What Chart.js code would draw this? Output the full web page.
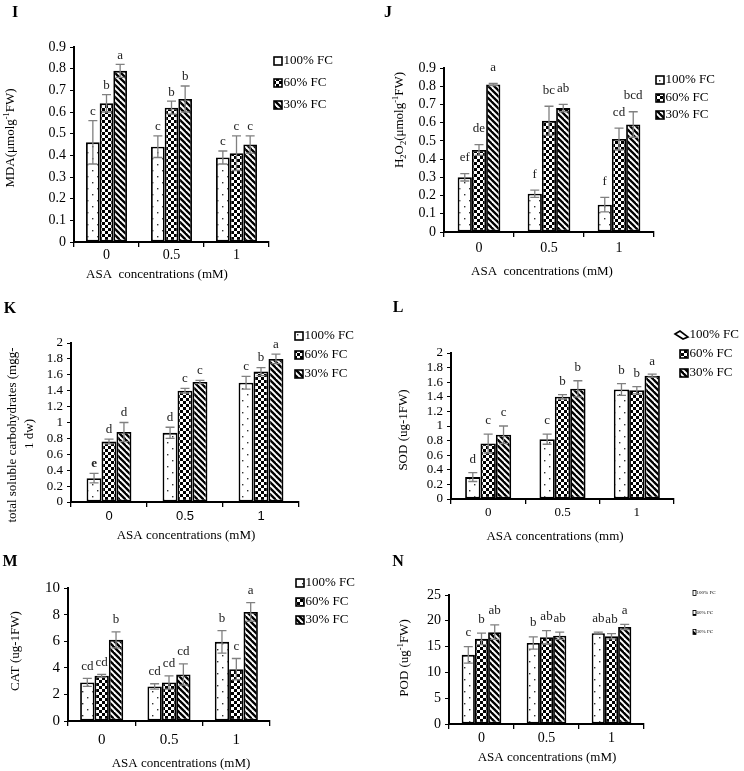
<!DOCTYPE html>
<html>
<head>
<meta charset="utf-8">
<title>ASA x water deficit panels I-N</title>
<script src="https://cdn.jsdelivr.net/npm/chart.js@4.4.1/dist/chart.umd.min.js"></script>
<style>
  html, body { margin: 0; padding: 0; background: #fff; }
  body { position: relative; width: 744px; height: 771px; overflow: hidden; }
  canvas { position: absolute; }
</style>
</head>
<body>
<canvas id="chartI"></canvas>
<canvas id="chartJ"></canvas>
<canvas id="chartK"></canvas>
<canvas id="chartL"></canvas>
<canvas id="chartM"></canvas>
<canvas id="chartN"></canvas>
<script>
// ---- values (rows: 100% FC, 60% FC, 30% FC) ----
const concentrations = ['0', '0.5', '1'];
const fieldCapacity = ['100% FC', '60% FC', '30% FC'];

// I - MDA
const mdaMeans = [[0.46, 0.44, 0.39], [0.64, 0.62, 0.41], [0.79, 0.66, 0.45]];
const mdaErrors = [[0.10, 0.05, 0.03], [0.04, 0.03, 0.08], [0.03, 0.06, 0.04]];
const mdaLetters = [['c', 'c', 'c'], ['b', 'b', 'c'], ['a', 'b', 'c']];
const mdaTicks = [0, 0.1, 0.2, 0.3, 0.4, 0.5, 0.6, 0.7, 0.8, 0.9];

// J - H2O2
const h2o2Means = [[0.30, 0.21, 0.15], [0.45, 0.61, 0.51], [0.81, 0.68, 0.59]];
const h2o2Errors = [[0.02, 0.02, 0.04], [0.03, 0.08, 0.06], [0.005, 0.02, 0.07]];
const h2o2Letters = [['ef', 'f', 'f'], ['de', 'bc', 'cd'], ['a', 'ab', 'bcd']];
const h2o2Ticks = [0, 0.1, 0.2, 0.3, 0.4, 0.5, 0.6, 0.7, 0.8, 0.9];

// K - total soluble carbohydrates
const carbMeans = [[0.30, 0.87, 1.50], [0.76, 1.40, 1.64], [0.88, 1.51, 1.80]];
const carbErrors = [[0.06, 0.07, 0.08], [0.03, 0.03, 0.05], [0.12, 0.02, 0.06]];
const carbLetters = [['e', 'd', 'c'], ['d', 'c', 'b'], ['d', 'c', 'a']];
const carbTicks = [0, 0.2, 0.4, 0.6, 0.8, 1, 1.2, 1.4, 1.6, 1.8, 2];

// L - SOD
const sodMeans = [[0.30, 0.82, 1.50], [0.76, 1.40, 1.49], [0.88, 1.51, 1.69]];
const sodErrors = [[0.06, 0.07, 0.08], [0.13, 0.03, 0.05], [0.12, 0.11, 0.02]];
const sodLetters = [['d', 'c', 'b'], ['c', 'b', 'b'], ['c', 'b', 'a']];
const sodTicks = [0, 0.2, 0.4, 0.6, 0.8, 1, 1.2, 1.4, 1.6, 1.8, 2];

// M - CAT
const catMeans = [[2.9, 2.6, 5.95], [3.4, 2.9, 3.9], [6.1, 3.5, 8.2]];
const catErrors = [[0.3, 0.2, 0.85], [0.1, 0.5, 0.8], [0.6, 0.8, 0.7]];
const catLetters = [['cd', 'cd', 'b'], ['cd', 'cd', 'c'], ['b', 'cd', 'a']];
const catTicks = [0, 2, 4, 6, 8, 10];

// N - POD
const podMeans = [[13.4, 15.7, 17.6], [16.5, 16.8, 17.0], [17.8, 17.1, 18.8]];
const podErrors = [[1.6, 1.2, 0.2], [1.1, 1.3, 0.5], [1.4, 0.7, 0.5]];
const podLetters = [['c', 'b', 'ab'], ['b', 'ab', 'ab'], ['ab', 'ab', 'a']];
const podTicks = [0, 5, 10, 15, 20, 25];

const SERIF = "'Liberation Serif', 'Times New Roman', serif";
const SANS = "'Liberation Sans', Arial, sans-serif";

// fill patterns for the three water regimes
function makePattern(kind) {
  const c = document.createElement('canvas');
  const g = c.getContext('2d');
  if (kind === 'dots') {
    c.width = 10; c.height = 12;
    g.fillStyle = '#fff'; g.fillRect(0, 0, 10, 12);
    g.fillStyle = '#333';
    g.fillRect(2, 2, 1.4, 1.4);
    g.fillRect(7, 8, 1.4, 1.4);
  } else if (kind === 'checker') {
    c.width = 6; c.height = 6;
    g.fillStyle = '#fff'; g.fillRect(0, 0, 6, 6);
    g.fillStyle = '#000';
    g.fillRect(0, 0, 3, 3);
    g.fillRect(3, 3, 3, 3);
  } else {
    c.width = 6; c.height = 6;
    g.fillStyle = '#fff'; g.fillRect(0, 0, 6, 6);
    g.strokeStyle = '#000'; g.lineWidth = 2.3;
    [-6, 0, 6].forEach(o => {
      g.beginPath(); g.moveTo(o - 1, -1); g.lineTo(o + 7, 7); g.stroke();
    });
  }
  return g.createPattern(c, 'repeat');
}
const fills = [makePattern('dots'), makePattern('checker'), makePattern('stripes')];

// draw text with ^{sup} and _{sub} parts, optionally rotated
function drawRich(ctx, text, x, y, size, rotate, bold) {
  const parts = [];
  const re = /([_^])\{([^}]*)\}/g;
  let last = 0, m;
  while ((m = re.exec(text))) {
    if (m.index > last) parts.push({ t: text.slice(last, m.index), k: '' });
    parts.push({ t: m[2], k: m[1] });
    last = re.lastIndex;
  }
  if (last < text.length) parts.push({ t: text.slice(last), k: '' });
  const fontOf = p => (bold ? 'bold ' : '') + (p.k ? size * 0.65 : size) + 'px ' + SERIF;
  ctx.save();
  ctx.translate(x, y);
  if (rotate) ctx.rotate(-Math.PI / 2);
  let total = 0;
  parts.forEach(p => { ctx.font = fontOf(p); p.w = ctx.measureText(p.t).width; total += p.w; });
  let cx = -total / 2;
  ctx.textAlign = 'left';
  ctx.textBaseline = 'middle';
  ctx.fillStyle = '#000';
  parts.forEach(p => {
    ctx.font = fontOf(p);
    const dy = p.k === '^' ? -size * 0.33 : p.k === '_' ? size * 0.28 : 0;
    ctx.fillText(p.t, cx, dy);
    cx += p.w;
  });
  ctx.restore();
}

function makeDeco(p) {
  const ox = p.box.l, oy = p.box.t;
  return {
    id: 'panelDeco' + p.tag,
    afterDatasetsDraw(chart) {
      const ctx = chart.ctx;
      const yScale = chart.scales.y;
      ctx.save();
      chart.data.datasets.forEach((ds, i) => {
        chart.getDatasetMeta(i).data.forEach((bar, j) => {
          const top = yScale.getPixelForValue(ds.data[j] + ds.errors[j]);
          const bot = yScale.getPixelForValue(ds.data[j] - ds.errors[j]);
          ctx.strokeStyle = '#808080';
          ctx.lineWidth = 1.3;
          ctx.beginPath();
          ctx.moveTo(bar.x, top); ctx.lineTo(bar.x, bot);
          ctx.moveTo(bar.x - 4.5, top); ctx.lineTo(bar.x + 4.5, top);
          ctx.moveTo(bar.x - 4.5, bot); ctx.lineTo(bar.x + 4.5, bot);
          ctx.stroke();
          const bold = p.boldLetter && p.boldLetter[0] === i && p.boldLetter[1] === j;
          ctx.font = (bold ? 'bold ' : '') + p.letterSize + 'px ' + SERIF;
          ctx.fillStyle = '#222';
          ctx.textAlign = 'center';
          ctx.textBaseline = 'middle';
          ctx.fillText(ds.letters[j], bar.x, top - p.letterGap);
        });
      });
      ctx.restore();
    },
    afterDraw(chart) {
      const ctx = chart.ctx;
      ctx.save();
      // panel letter
      ctx.font = 'bold 16px ' + SERIF;
      ctx.fillStyle = '#000';
      ctx.textAlign = 'center';
      ctx.textBaseline = 'middle';
      ctx.fillText(p.tag, p.tagPos[0] - ox, p.tagPos[1] - oy);
      // axis titles
      p.yTitle.forEach(t => drawRich(ctx, t.text, t.x - ox, t.y - oy, 13, true));
      drawRich(ctx, p.xTitle.text, p.xTitle.x - ox, p.xTitle.y - oy, 13, false);
      // legend
      const lg = p.legend;
      fieldCapacity.forEach((name, i) => {
        const by = lg.rows[i] - oy;
        const bx = lg.x - ox;
        ctx.lineWidth = lg.tiny ? 0.8 : 1.6;
        ctx.strokeStyle = '#000';
        if (lg.slant && i === 0) {
          ctx.fillStyle = '#fff';
          ctx.beginPath();
          ctx.moveTo(bx - 5, by - 1);
          ctx.lineTo(bx, by - 4);
          ctx.lineTo(bx + 8, by + 2);
          ctx.lineTo(bx + 3, by + 4);
          ctx.closePath();
          ctx.fill(); ctx.stroke();
        } else {
          ctx.fillStyle = fills[i];
          ctx.fillRect(bx, by - lg.bh / 2, lg.bw, lg.bh);
          ctx.strokeRect(bx, by - lg.bh / 2, lg.bw, lg.bh);
        }
        ctx.fillStyle = '#000';
        ctx.font = lg.size + 'px ' + SERIF;
        ctx.textAlign = 'left';
        ctx.textBaseline = 'middle';
        ctx.fillText(name, bx + lg.bw + (lg.tiny ? 0.5 : 1.5), by);
      });
      ctx.restore();
    }
  };
}

function drawPanel(p, means, errors, letters, yTicks) {
  const canvas = document.getElementById('chart' + p.tag);
  canvas.width = p.box.w;
  canvas.height = p.box.h;
  canvas.style.left = p.box.l + 'px';
  canvas.style.top = p.box.t + 'px';
  const xTickPad = p.xLabelY - p.area.b - 5 - 0.6 * p.xTickSize;

  new Chart(canvas, {
    type: 'bar',
    data: {
      labels: concentrations,
      datasets: fieldCapacity.map((name, s) => ({
        label: name,
        data: means[s],
        errors: errors[s],
        letters: letters[s],
        backgroundColor: fills[s],
        borderColor: '#000',
        borderWidth: 1.8,
        borderSkipped: false,
        categoryPercentage: p.groupFrac,
        barPercentage: 1
      }))
    },
    options: {
      responsive: false,
      devicePixelRatio: 1,
      animation: false,
      layout: {
        padding: {
          left: 0,
          top: p.area.t - p.box.t,
          right: p.box.l + p.box.w - p.area.r,
          bottom: 0
        }
      },
      plugins: { legend: { display: false }, tooltip: { enabled: false } },
      scales: {
        x: {
          afterFit: s => { s.height = p.box.t + p.box.h - p.area.b; },
          grid: { drawOnChartArea: false, tickLength: 5, color: '#000', lineWidth: 1.3, offset: true },
          border: { color: '#000', width: 2 },
          ticks: {
            color: '#000',
            padding: xTickPad,
            maxRotation: 0,
            font: { family: p.xTickFamily, size: p.xTickSize }
          }
        },
        y: {
          min: 0,
          max: yTicks[yTicks.length - 1],
          afterFit: s => { s.width = p.area.l - p.box.l; },
          afterBuildTicks: s => { s.ticks = yTicks.map(v => ({ value: v })); },
          grid: { drawOnChartArea: false, tickLength: 4, color: '#000', lineWidth: 1 },
          border: { color: '#000', width: 2 },
          ticks: {
            autoSkip: false,
            color: '#000',
            padding: 4,
            font: { family: SERIF, size: p.yTickSize },
            callback: v => String(Math.round(v * 100) / 100)
          }
        }
      }
    },
    plugins: [makeDeco(p)]
  });
}

drawPanel({
  tag: 'I', box: { l: 0, t: 0, w: 372, h: 290 }, area: { l: 74, t: 47, r: 269, b: 242 },
  yTickSize: 14, xTickSize: 14, xTickFamily: SERIF, xLabelY: 255,
  groupFrac: 0.63, letterGap: 9, letterSize: 13, tagPos: [15, 13],
  yTitle: [{ text: 'MDA(\u03bcmolg^{-1}FW)', x: 11, y: 138 }],
  xTitle: { text: 'ASA  concentrations (mM)', x: 157, y: 275 },
  legend: { x: 274, rows: [61, 83, 105], bw: 8, bh: 8, size: 13 }
}, mdaMeans, mdaErrors, mdaLetters, mdaTicks);

drawPanel({
  tag: 'J', box: { l: 372, t: 0, w: 372, h: 290 }, area: { l: 444, t: 68, r: 654, b: 232 },
  yTickSize: 14, xTickSize: 14, xTickFamily: SERIF, xLabelY: 248,
  groupFrac: 0.61, letterGap: 16, letterSize: 13, tagPos: [388, 13],
  yTitle: [{ text: 'H_{2}O_{2}(\u03bcmolg^{-1}FW)', x: 400, y: 120 }],
  xTitle: { text: 'ASA  concentrations (mM)', x: 542, y: 272 },
  legend: { x: 656, rows: [80, 98, 115], bw: 8, bh: 8, size: 13 }
}, h2o2Means, h2o2Errors, h2o2Letters, h2o2Ticks);

drawPanel({
  tag: 'K', box: { l: 0, t: 290, w: 372, h: 255 }, area: { l: 71, t: 343, r: 299, b: 502 },
  yTickSize: 13, xTickSize: 13, xTickFamily: SANS, xLabelY: 516,
  groupFrac: 0.59, letterGap: 10, letterSize: 13, tagPos: [10, 309], boldLetter: [0, 0],
  yTitle: [
    { text: 'total soluble carbohydrates (mgg-', x: 13, y: 435 },
    { text: '1 dw)', x: 30, y: 434 }
  ],
  xTitle: { text: 'ASA concentrations (mM)', x: 186, y: 536 },
  legend: { x: 295, rows: [336, 355, 374], bw: 8, bh: 8, size: 13 }
}, carbMeans, carbErrors, carbLetters, carbTicks);

drawPanel({
  tag: 'L', box: { l: 372, t: 290, w: 372, h: 255 }, area: { l: 451, t: 353, r: 674, b: 499 },
  yTickSize: 13, xTickSize: 13, xTickFamily: SERIF, xLabelY: 513,
  groupFrac: 0.62, letterGap: 13, letterSize: 13, tagPos: [398, 308],
  yTitle: [{ text: 'SOD (ug-1FW)', x: 404, y: 430 }],
  xTitle: { text: 'ASA concentrations (mm)', x: 555, y: 537 },
  legend: { x: 680, rows: [335, 354, 373], bw: 8, bh: 8, size: 13, slant: true }
}, sodMeans, sodErrors, sodLetters, sodTicks);

drawPanel({
  tag: 'M', box: { l: 0, t: 545, w: 372, h: 226 }, area: { l: 68, t: 588, r: 270, b: 721 },
  yTickSize: 15, xTickSize: 15, xTickFamily: SERIF, xLabelY: 740,
  groupFrac: 0.64, letterGap: 12, letterSize: 13, tagPos: [10, 562],
  yTitle: [{ text: 'CAT (ug-1FW)', x: 16, y: 651 }],
  xTitle: { text: 'ASA concentrations (mM)', x: 181, y: 764 },
  legend: { x: 296, rows: [583, 602, 620], bw: 8, bh: 8, size: 13 }
}, catMeans, catErrors, catLetters, catTicks);

drawPanel({
  tag: 'N', box: { l: 372, t: 545, w: 372, h: 226 }, area: { l: 449, t: 595, r: 644, b: 724 },
  yTickSize: 14, xTickSize: 14, xTickFamily: SERIF, xLabelY: 738,
  groupFrac: 0.61, letterGap: 14, letterSize: 13, tagPos: [398, 562],
  yTitle: [{ text: 'POD (ug^{-1}FW)', x: 405, y: 658 }],
  xTitle: { text: 'ASA concentrations (mM)', x: 547, y: 758 },
  legend: { x: 693, rows: [593, 613, 632], bw: 3, bh: 5, size: 5, tiny: true }
}, podMeans, podErrors, podLetters, podTicks);
</script>
</body>
</html>
